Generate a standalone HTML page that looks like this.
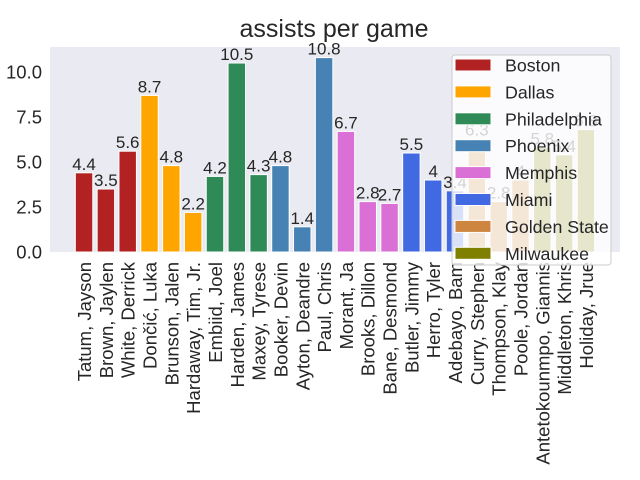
<!DOCTYPE html>
<html><head><meta charset="utf-8"><style>
body{margin:0;background:#fff}
svg{display:block;font-family:"Liberation Sans","DejaVu Sans",sans-serif}
</style></head><body>
<svg id="chart" width="640" height="480" viewBox="0 0 640 480">
<rect x="0" y="0" width="640" height="480" fill="#fff"/>
<rect x="50" y="47" width="570" height="205" fill="#eaeaf2"/>
<text x="334" y="37" font-size="25" text-anchor="middle" fill="#262626">assists per game</text>
<g id="bars"></g><g id="yticks"></g><g id="xticks"></g><g id="legend"></g>
</svg>
<script>
const players=["Tatum, Jayson","Brown, Jaylen","White, Derrick","Dončić, Luka","Brunson, Jalen","Hardaway, Tim, Jr.","Embiid, Joel","Harden, James","Maxey, Tyrese","Booker, Devin","Ayton, Deandre","Paul, Chris","Morant, Ja","Brooks, Dillon","Bane, Desmond","Butler, Jimmy","Herro, Tyler","Adebayo, Bam","Curry, Stephen","Thompson, Klay","Poole, Jordan","Antetokounmpo, Giannis","Middleton, Khris","Holiday, Jrue"];
const assists=[4.4,3.5,5.6,8.7,4.8,2.2,4.2,10.5,4.3,4.8,1.4,10.8,6.7,2.8,2.7,5.5,4,3.4,6.3,2.8,4,5.8,5.4,6.8];
const teamOf=[0,0,0,1,1,1,2,2,2,3,3,3,4,4,4,5,5,5,6,6,6,7,7,7];
const teams=["Boston","Dallas","Philadelphia","Phoenix","Memphis","Miami","Golden State","Milwaukee"];
const teamColors=["#b22222","#ffa500","#2e8b57","#4682b4","#da70d6","#4169e1","#cd853f","#808000"];
const yTicks=[0,2.5,5,7.5,10];
const NS="http://www.w3.org/2000/svg";
const X0=50,X1=620,Y0=252,YT=47;
const ymax=11.39;
const xs=i=>X0+(i+1.56)*(X1-X0)/(players.length-1+3.12);
const ys=v=>Y0-v*(Y0-YT)/ymax;
const step=(X1-X0)/(players.length-1+3.12);
function mk(t,a,p){const e=document.createElementNS(NS,t);for(const k in a)e.setAttribute(k,a[k]);p.appendChild(e);return e;}
const gb=document.getElementById('bars');
assists.forEach((v,i)=>{
 const w=step*0.8;
 const r=mk('rect',{x:xs(i)-w/2,y:ys(v),width:w,height:Y0-ys(v),fill:teamColors[teamOf[i]],stroke:'#fff','stroke-width':1},gb);
 
 
 const t=mk('text',{x:xs(i),y:ys(v)-3,'font-size':17,'text-anchor':'middle',fill:'#262626'},gb);
 t.textContent=String(v);
 
 
});
const gy=document.getElementById('yticks');
yTicks.forEach(v=>{
 const t=mk('text',{x:42,y:ys(v)+6.5,'font-size':18.5,'text-anchor':'end',fill:'#262626'},gy);
 t.textContent=v.toFixed(1);
 
 
});
const gx=document.getElementById('xticks');
players.forEach((p,i)=>{
 const t=mk('text',{transform:`translate(${xs(i)+7},262) rotate(-90)`,'font-size':18.5,'text-anchor':'end',fill:'#262626'},gx);
 t.textContent=p;
 
 
});
const gl=document.getElementById('legend');
const box=mk('rect',{x:452,y:55,width:159,height:210,rx:3,fill:'#fff','fill-opacity':0.8,stroke:'#cccccc'},gl);


teams.forEach((tm,i)=>{
 const y=59+i*26.9;
 const s=mk('rect',{x:455,y:y,width:36,height:12,fill:teamColors[i],stroke:'#fff'},gl);
 
 
 const t=mk('text',{x:505,y:y+12.5,'font-size':17.8,fill:'#262626'},gl);
 t.textContent=tm;
 
 
});
</script>
</body></html>
